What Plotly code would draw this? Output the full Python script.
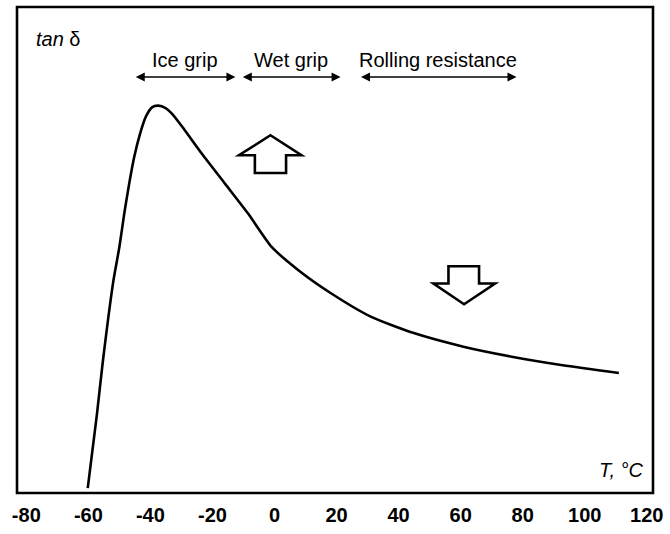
import plotly.graph_objects as go

# Temperature (°C) and tan delta (arbitrary units)
temperature = [-60.2, -57.2, -55.4, -51.9, -50.0, -48.4, -46.8, -45.2, -43.3, -41.5,
               -39.4, -37.5, -35.1, -33.0, -29.8, -23.4, -15.9, -8.4, -1.0, 7.6,
               18.2, 31.0, 44.9, 60.9, 76.9, 92.9, 111.0]
tan_delta = [0.010, 0.164, 0.267, 0.438, 0.506, 0.576, 0.638, 0.692, 0.740, 0.774,
             0.794, 0.797, 0.792, 0.780, 0.754, 0.698, 0.636, 0.574, 0.507, 0.459,
             0.411, 0.363, 0.329, 0.301, 0.280, 0.263, 0.247]

tick_values = [-80, -60, -40, -20, 0, 20, 40, 60, 80, 100, 120]
tick_labels = ["-80", "-60", "-40", "-20", "0", "20", "40", "60", "80", "100", "120"]

# Property regions (start, end temperature) and their labels
region_names = ["Ice grip", "Wet grip", "Rolling resistance"]
region_start = [-45.2, -10.7, 27.4]
region_end = [-12.6, 21.3, 78.0]
region_arrow_y = 0.856
region_label_y = 0.891

FONT = "Liberation Sans, Arial, sans-serif"

fig = go.Figure()
fig.add_trace(go.Scatter(
    x=temperature, y=tan_delta, mode="lines",
    line=dict(color="black", width=2.6, shape="spline", smoothing=0.6),
    hoverinfo="skip", showlegend=False,
))

annotations = []
for name, a, b in zip(region_names, region_start, region_end):
    annotations.append(dict(
        x=b, y=region_arrow_y, ax=a, ay=region_arrow_y,
        xref="x", yref="y", axref="x", ayref="y",
        text="", showarrow=True, arrowhead=2, arrowside="end+start",
        arrowsize=1.2, arrowwidth=1.5, arrowcolor="black",
    ))
    annotations.append(dict(
        x=(a + b) / 2, y=region_label_y, xref="x", yref="y",
        text=name, showarrow=False,
        font=dict(family=FONT, size=20, color="black"),
        xanchor="center", yanchor="middle",
    ))

annotations.append(dict(
    x=0.026, y=0.935, xref="paper", yref="paper",
    text="<i>tan</i> δ", showarrow=False, xanchor="left", yanchor="middle",
    font=dict(family=FONT, size=20, color="black"),
))
annotations.append(dict(
    x=0.987, y=0.047, xref="paper", yref="paper",
    text="<i>T, °C</i>", showarrow=False, xanchor="right", yanchor="middle",
    font=dict(family=FONT, size=20, color="black"),
))

# Hollow block arrows (decorations), pixel-sized around an anchor
up_path = "M 0 20 L 31 0 L 15.6 0 L 15.6 -17.7 L -15.6 -17.7 L -15.6 0 L -31.5 0 Z"
down_path = "M -15.6 17.3 L 15 17.3 L 15 0 L 31 0 L 0 -20.7 L -30.6 0 L -15.6 0 Z"
shapes = [
    dict(type="rect", xref="paper", yref="paper", x0=0, x1=1, y0=0, y1=1,
         line=dict(color="black", width=2.6), fillcolor="rgba(0,0,0,0)", layer="above"),
    dict(type="path", xref="x", yref="y", xsizemode="pixel", ysizemode="pixel",
         xanchor=-1.3, yanchor=0.695, path=up_path,
         line=dict(color="black", width=2.6), fillcolor="white"),
    dict(type="path", xref="x", yref="y", xsizemode="pixel", ysizemode="pixel",
         xanchor=61.1, yanchor=0.431, path=down_path,
         line=dict(color="black", width=2.6), fillcolor="white"),
]

fig.update_layout(
    width=670, height=534,
    margin=dict(l=17, r=17, t=7, b=41, autoexpand=False),
    paper_bgcolor="white", plot_bgcolor="white",
    annotations=annotations, shapes=shapes,
    showlegend=False,
)
fig.update_xaxes(
    range=[-83, 122], tickvals=tick_values, ticktext=tick_labels,
    showgrid=False, zeroline=False, showline=False, automargin=False,
    ticks="", ticklabelstandoff=8,
    tickfont=dict(family=FONT, size=20, color="black", weight="bold"),
)
fig.update_yaxes(
    range=[0, 1], showticklabels=False, showgrid=False, zeroline=False, automargin=False,
    showline=False, ticks="",
)

fig.write_html(
    "out.html",
    config={"displayModeBar": False},
    post_script="document.body.style.margin='0';document.body.style.overflow='hidden';",
)
